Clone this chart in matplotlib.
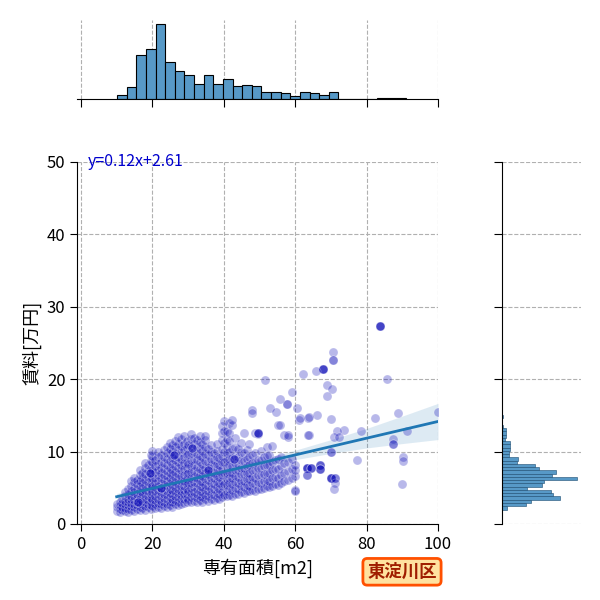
import matplotlib
matplotlib.use("Agg")
import matplotlib.pyplot as plt
import numpy as np

plt.rcParams["font.family"] = ["Noto Sans CJK JP", "DejaVu Sans"]

# --- 散布図のデータ（専有面積 m2 / 賃料 万円）: 密集部は列ごとに読み取り ---
col_area = [10.0, 10.8, 11.6, 12.4, 13.2, 14.0, 14.8, 15.6, 16.4, 17.2,
            18.0, 18.8, 19.6, 20.0, 20.8, 21.6, 22.4, 23.2, 24.0, 24.8,
            25.6, 26.4, 27.2, 28.0, 28.8, 29.6, 30.0, 30.8, 31.6, 32.4,
            33.2, 34.0, 34.8, 35.6, 36.4, 37.2, 38.0, 38.8, 39.6, 40.0,
            40.8, 41.6, 42.4, 43.2, 44.0, 44.8, 45.6, 46.4, 47.2, 48.0,
            48.8, 49.6, 50.4, 51.2, 52.0, 52.8, 53.6, 54.4, 55.2, 56.0,
            57.0, 58.0, 59.0, 60.0]
col_rent = [
    [1.8, 2.3, 2.7],
    [1.7, 2.1, 2.6, 3.1],
    [1.9, 2.4, 2.9, 3.5],
    [1.8, 2.2, 2.7, 3.2, 3.8, 4.4],
    [1.7, 2.1, 2.6, 3.0, 3.5, 4.1, 4.8],
    [2.0, 2.5, 2.9, 3.4, 3.9, 4.6, 5.3, 6.0],
    [1.8, 2.3, 2.8, 3.3, 3.8, 4.4, 5.0, 5.8, 6.4],
    [2.1, 2.6, 3.1, 3.6, 4.2, 4.8, 5.5, 6.1],
    [1.9, 2.4, 2.9, 3.4, 4.0, 4.6, 5.2, 5.9, 6.7, 7.4],
    [2.2, 2.7, 3.2, 3.8, 4.4, 5.0, 5.7, 6.4, 7.1],
    [2.0, 2.5, 3.0, 3.5, 4.1, 4.7, 5.4, 6.1, 6.9, 7.7, 8.4],
    [2.3, 2.8, 3.3, 3.9, 4.5, 5.1, 5.8, 6.5, 7.3, 8.1],
    [2.1, 2.6, 3.1, 3.6, 4.2, 4.8, 5.5, 6.2, 7.0, 7.8, 8.7, 9.5],
    [2.5, 3.4, 4.4, 5.3, 6.4, 7.5, 8.5, 9.4, 10.1],
    [2.2, 2.8, 3.3, 3.9, 4.5, 5.1, 5.7, 6.4, 7.2, 8.0, 8.9],
    [2.4, 2.9, 3.5, 4.1, 4.7, 5.3, 6.0, 6.7, 7.5, 8.3, 9.2, 9.9],
    [2.2, 2.7, 3.2, 3.8, 4.4, 5.0, 5.6, 6.3, 7.0, 7.8, 8.6, 9.5],
    [2.5, 3.0, 3.6, 4.2, 4.8, 5.4, 6.1, 6.8, 7.6, 8.4, 9.3, 10.2],
    [2.3, 2.8, 3.4, 4.0, 4.6, 5.2, 5.9, 6.6, 7.3, 8.1, 9.0, 9.8, 10.6],
    [2.6, 3.1, 3.7, 4.3, 4.9, 5.6, 6.3, 7.0, 7.8, 8.7, 9.6, 10.4, 11.2],
    [2.4, 3.0, 3.5, 4.1, 4.7, 5.4, 6.0, 6.8, 7.5, 8.3, 9.1, 10.0, 10.9],
    [2.7, 3.3, 3.9, 4.5, 5.1, 5.8, 6.5, 7.2, 8.0, 8.8, 9.7, 10.6, 11.5],
    [2.6, 3.1, 3.7, 4.3, 4.9, 5.5, 6.2, 6.9, 7.7, 8.5, 9.3, 10.2, 11.1, 12.0],
    [2.8, 3.4, 4.0, 4.6, 5.2, 5.9, 6.6, 7.4, 8.2, 9.0, 9.9, 10.8, 11.7],
    [2.9, 3.5, 4.1, 4.7, 5.3, 6.0, 6.8, 7.6, 8.4, 9.3, 10.2, 11.0, 12.2],
    [3.0, 3.6, 4.2, 4.8, 5.5, 6.2, 6.9, 7.7, 8.6, 9.5, 10.5, 11.4],
    [3.3, 4.5, 5.7, 7.0, 8.3, 9.6, 10.9],
    [3.1, 3.7, 4.3, 5.0, 5.7, 6.4, 7.2, 8.0, 8.9, 9.8, 10.8, 11.8, 12.4],
    [3.2, 3.8, 4.4, 5.1, 5.8, 6.5, 7.3, 8.1, 9.0, 10.0, 11.0, 11.9],
    [3.0, 3.6, 4.2, 4.9, 5.6, 6.3, 7.1, 7.9, 8.8, 9.7, 10.7, 11.6],
    [3.3, 3.9, 4.6, 5.3, 6.0, 6.8, 7.6, 8.5, 9.4, 10.4, 11.3, 12.1],
    [3.1, 3.7, 4.4, 5.1, 5.8, 6.6, 7.4, 8.3, 9.2, 10.1, 11.1],
    [3.4, 4.0, 4.7, 5.4, 6.2, 7.0, 7.8, 8.7, 9.6, 10.6, 11.6, 12.2],
    [3.2, 3.9, 4.6, 5.3, 6.1, 6.9, 7.7, 8.6, 9.5, 10.4],
    [3.5, 4.2, 4.9, 5.6, 6.4, 7.2, 8.1, 9.0, 9.9, 10.9],
    [3.3, 4.0, 4.8, 5.5, 6.3, 7.1, 8.0, 8.9, 9.8],
    [3.6, 4.3, 5.1, 5.8, 6.6, 7.4, 8.3, 9.2, 10.1, 11.0],
    [3.4, 4.1, 4.9, 5.7, 6.5, 7.3, 8.2, 9.1],
    [3.7, 4.4, 5.2, 6.0, 6.8, 7.6, 8.5, 9.4, 10.3, 11.6, 12.6, 13.6],
    [4.0, 5.5, 7.0, 8.5, 10.0, 11.2, 12.8, 14.2],
    [3.8, 4.6, 5.4, 6.2, 7.0, 7.9, 8.8, 9.8, 10.8, 11.8, 12.9],
    [4.0, 4.8, 5.6, 6.4, 7.2, 8.1, 9.0, 10.0, 11.4, 12.6, 13.9],
    [3.9, 4.7, 5.5, 6.3, 7.1, 8.0, 9.1, 10.3, 13.7, 14.4],
    [4.2, 5.0, 5.8, 6.6, 7.5, 8.4, 9.4, 10.6, 11.9],
    [4.1, 4.9, 5.7, 6.5, 7.4, 8.3, 9.3, 10.4],
    [4.4, 5.2, 6.0, 6.9, 7.8, 8.8, 9.9, 11.2],
    [4.3, 5.1, 6.0, 6.9, 7.8, 8.7, 9.8, 12.6],
    [4.6, 5.4, 6.2, 7.1, 8.0, 9.0, 10.2],
    [4.5, 5.3, 6.2, 7.1, 8.1, 9.2, 11.1],
    [4.7, 5.6, 6.5, 7.4, 8.4, 9.5],
    [4.6, 5.5, 6.4, 7.4, 8.5, 9.8, 12.5],
    [4.9, 5.8, 6.7, 7.7, 8.8, 12.4],
    [4.8, 5.7, 6.7, 7.7, 8.9, 10.1],
    [5.0, 5.9, 6.9, 8.0, 9.2],
    [5.2, 6.1, 7.1, 8.2, 9.4, 10.6],
    [5.1, 6.0, 7.0, 8.2, 9.5],
    [5.3, 6.3, 7.4, 8.6, 10.8],
    [5.5, 6.5, 7.6, 8.9],
    [5.4, 6.4, 7.6, 9.0, 13.7],
    [5.7, 6.8, 8.0, 9.3],
    [5.9, 7.1, 8.4, 12.3],
    [6.1, 7.3, 8.6, 12.0],
    [6.4, 7.6, 9.0],
    [4.7, 6.6, 7.5, 8.2],
]

# 散らばった物件（重複あり）
sparse_area = [83.8, 83.8, 83.8, 83.8, 70.7, 70.7, 70.7, 67.9, 67.9, 67.9,
               67.9, 65.9, 62.3, 51.5, 85.8, 68.9, 70.4, 68.9, 59.0, 57.8,
               57.8, 55.8, 53.0, 47.9, 47.9, 54.5, 66.2, 63.7, 61.2, 70.1,
               82.4, 88.9, 100.0, 91.4, 87.3, 87.5, 87.5, 78.4, 73.8, 71.8,
               71.0, 72.4, 77.4, 90.3, 90.3, 89.8, 70.0, 70.0, 67.0, 67.0,
               67.0, 67.0, 67.0, 67.0, 63.3, 63.3, 63.3, 63.3, 64.4, 64.4,
               64.4, 63.3, 63.3, 70.0, 70.0, 70.0, 70.0, 71.2, 71.2, 71.2,
               71.0, 60.0, 63.9, 58.0, 55.8, 49.7, 49.7, 49.7, 61.4, 64.0,
               63.7, 60.5, 19.4, 19.4, 26.0, 26.0, 31.0, 31.0, 22.5, 22.5,
               35.5, 35.5, 43.0, 43.0, 16.0, 16.0]
sparse_rent = [27.3, 27.3, 27.3, 27.3, 23.8, 22.7, 22.7, 21.4, 21.4, 21.4,
               21.4, 21.1, 20.7, 19.9, 20.0, 19.2, 18.7, 17.7, 18.2, 16.6,
               16.6, 17.3, 16.0, 15.7, 15.3, 15.5, 15.1, 14.7, 14.4, 14.5,
               14.7, 15.3, 15.5, 12.9, 11.7, 11.0, 11.0, 12.9, 13.0, 12.9,
               12.0, 12.0, 8.9, 9.3, 8.7, 5.5, 10.0, 10.0, 8.1, 8.1,
               8.1, 7.6, 7.6, 7.6, 7.7, 7.7, 7.7, 7.7, 7.8, 7.8,
               7.8, 6.8, 6.8, 6.4, 6.4, 6.4, 6.4, 6.3, 6.3, 5.6,
               4.9, 4.6, 12.3, 12.3, 13.7, 12.6, 12.6, 12.6, 14.6, 14.8,
               12.3, 16.0, 7.0, 7.0, 9.5, 9.5, 10.5, 10.5, 5.0, 5.0,
               7.5, 7.5, 9.0, 9.0, 3.0, 3.0]

# 回帰直線と信頼区間の幅
reg_slope = 0.1155
reg_intercept = 2.61
band_area = [10, 20, 30, 40, 50, 60, 70, 80, 90, 100]
band_half = [0.45, 0.3, 0.25, 0.3, 0.42, 0.65, 0.95, 1.35, 1.9, 2.5]

# 上の周辺ヒストグラム（専有面積）
area_bin_start = 10.1
area_bin_width = 2.697
area_counts = [7, 23, 87, 99, 149, 73, 55, 47, 29, 47,
               29, 39, 25, 27, 25, 13, 13, 11, 5, 13,
               11, 7, 13, 0, 0, 0, 0, 1, 1, 1]

# 右の周辺ヒストグラム（賃料）
rent_bin_start = 2.0
rent_bin_width = 0.45
rent_counts = [7, 31, 37, 75, 65, 63, 33, 52, 54, 96,
               64, 70, 48, 43, 20, 21, 10, 9, 11, 11,
               11, 4, 6, 6, 6, 2, 1, 0, 2, 0,
               0, 0, 0, 0, 0, 0, 0, 0, 0, 0,
               0, 0, 0, 1, 0, 0, 0, 0, 0, 0,
               0, 0, 0, 0, 0, 0, 1]

ward = "東淀川区"

# 列データを平らにする
pts_x = [a for a, col in zip(col_area, col_rent) for _ in col] + sparse_area
pts_y = [r for col in col_rent for r in col] + sparse_rent

fig = plt.figure(figsize=(6, 6), dpi=100)
ax = fig.add_axes([0.129, 0.1267, 0.601, 0.6033])
ax_top = fig.add_axes([0.129, 0.835, 0.601, 0.1317])
ax_right = fig.add_axes([0.836, 0.1267, 0.1317, 0.6033])

grid_kw = dict(color="#b0b0b0", linestyle="--", linewidth=0.8)

# メインの散布図
ax.scatter(pts_x, pts_y, s=42, color="#0000b4", alpha=0.28,
           edgecolors="white", linewidths=0.6, zorder=2)

xfit = np.array([min(pts_x), max(pts_x)])
ax.plot(xfit, reg_slope * xfit + reg_intercept, color="#1f77b4", lw=2, zorder=3)
bx = np.array(band_area, dtype=float)
by = reg_slope * bx + reg_intercept
ax.fill_between(bx, by - np.array(band_half), by + np.array(band_half),
                color="#1f77b4", alpha=0.15, lw=0, zorder=1)

ax.text(2, 50.1, f"y={reg_slope:.2f}x+{reg_intercept:.2f}", color="mediumblue",
        fontsize=11.5, va="center", ha="left")

ax.set_xlim(-1, 100)
ax.set_ylim(0, 50)
ax.set_xticks(range(0, 101, 20))
ax.set_yticks(range(0, 51, 10))
ax.grid(True, **grid_kw)
ax.set_axisbelow(True)
for side in ["top", "right"]:
    ax.spines[side].set_visible(False)
ax.tick_params(labelsize=12, length=5)
ax.set_xlabel("専有面積[m2]", fontsize=13)
ax.set_ylabel("賃料[万円]", fontsize=13)

# 上の周辺ヒストグラム
area_left = area_bin_start + area_bin_width * np.arange(len(area_counts))
ax_top.bar(area_left, area_counts, width=area_bin_width, align="edge",
           color="#5799c7", edgecolor="black", linewidth=0.8, zorder=2)
ax_top.set_xlim(-1, 100)
ax_top.set_xticks(range(0, 101, 20))
ax_top.tick_params(labelbottom=False, left=False, labelleft=False, length=6)
ax_top.grid(True, axis="x", **grid_kw)
ax_top.set_axisbelow(True)
for side in ["top", "right", "left"]:
    ax_top.spines[side].set_visible(False)

# 右の周辺ヒストグラム
rent_low = rent_bin_start + rent_bin_width * np.arange(len(rent_counts))
ax_right.barh(rent_low, rent_counts, height=rent_bin_width, align="edge",
              color="#5799c7", edgecolor="#1a4a70", linewidth=0.4, zorder=2)
ax_right.set_ylim(0, 50)
ax_right.set_yticks(range(0, 51, 10))
ax_right.tick_params(labelleft=False, bottom=False, labelbottom=False, length=6)
ax_right.grid(True, axis="y", **grid_kw)
ax_right.set_axisbelow(True)
for side in ["top", "right", "bottom"]:
    ax_right.spines[side].set_visible(False)

fig.text(0.67, 0.047, ward, fontsize=12.5, fontweight="bold", color="#a01e00",
         ha="center", va="center",
         bbox=dict(boxstyle="round,pad=0.25", fc="#ffe2a0", ec="#ff5000", lw=2))

fig.savefig("out.png", dpi=100)
